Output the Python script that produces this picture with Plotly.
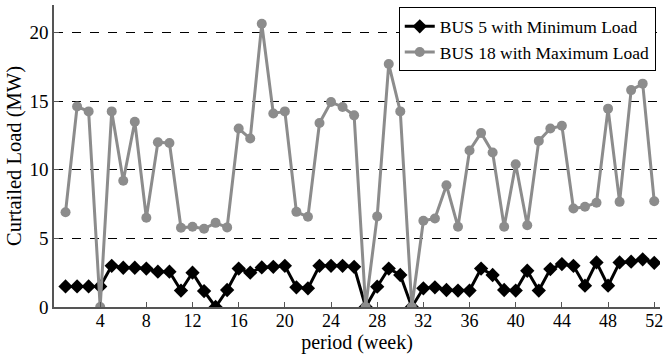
import plotly.graph_objects as go

weeks = list(range(1, 53))
bus5_min = [1.5, 1.5, 1.5, 1.5, 3.0, 2.86, 2.86, 2.8, 2.57, 2.57,
            1.2, 2.5, 1.16, 0.0, 1.24, 2.8, 2.5, 2.88, 2.93, 3.0,
            1.43, 1.36, 3.0, 3.0, 3.0, 2.93, 0.0, 1.48, 2.8, 2.33,
            0.0, 1.36, 1.43, 1.24, 1.2, 1.2, 2.8, 2.33, 1.24, 1.2,
            2.64, 1.2, 2.76, 3.13, 3.0, 1.55, 3.25, 1.55, 3.25, 3.3,
            3.47, 3.22]
bus18_max = [6.9, 14.6, 14.25, 0.0, 14.25, 9.2, 13.5, 6.5, 12.0, 11.95,
             5.77, 5.84, 5.7, 6.13, 5.8, 13.0, 12.27, 20.63, 14.1, 14.25,
             6.93, 6.57, 13.4, 14.93, 14.57, 13.96, 0.0, 6.6, 17.7, 14.25,
             0.0, 6.28, 6.45, 8.87, 5.84, 11.4, 12.68, 11.25, 5.84, 10.4,
             5.96, 12.1, 13.0, 13.2, 7.18, 7.3, 7.6, 14.45, 7.66, 15.8,
             16.27, 7.7]
xticks = list(range(4, 53, 4))
yticks = [0, 5, 10, 15, 20]

font = "Liberation Serif"

fig = go.Figure()
fig.add_trace(go.Scatter(
    x=weeks, y=bus5_min, mode="lines+markers", name="BUS 5 with Minimum Load",
    line=dict(color="black", width=3),
    marker=dict(symbol="diamond", size=11, color="black"),
))
fig.add_trace(go.Scatter(
    x=weeks, y=bus18_max, mode="lines+markers", name="BUS 18 with Maximum Load",
    line=dict(color="#8c8c8c", width=3),
    marker=dict(symbol="circle", size=10, color="#8c8c8c"),
))

fig.update_layout(
    width=665, height=354,
    margin=dict(l=54, r=2, t=5, b=47),
    paper_bgcolor="white", plot_bgcolor="white",
    font=dict(family=font, size=19, color="black"),
    legend=dict(
        x=0.993, y=0.992, xanchor="right", yanchor="top",
        bordercolor="black", borderwidth=1, bgcolor="white",
        font=dict(family=font, size=17.5, color="black"),
        tracegroupgap=0, itemwidth=30,
    ),
    showlegend=True,
)
fig.update_xaxes(
    range=[0, 52.5], tickvals=xticks, ticktext=[str(t) for t in xticks],
    ticks="inside", ticklen=5, tickcolor="#555555",
    showline=True, linecolor="#555555", linewidth=1.5,
    showgrid=False, zeroline=False, ticklabeloverflow="allow",
    ticklabelstandoff=-3,
    title=dict(text="period (week)", font=dict(family=font, size=20), standoff=4),
    tickfont=dict(family=font, size=18),
)
fig.update_yaxes(
    range=[0, 22], tickvals=yticks, ticktext=[str(t) for t in yticks],
    ticks="inside", ticklen=5, tickcolor="#555555",
    showline=True, linecolor="#555555", linewidth=1.5,
    showgrid=True, gridcolor="black", griddash="dash", gridwidth=1,
    zeroline=False,
    title=dict(text="Curtailed Load (MW)", font=dict(family=font, size=20.5), standoff=2),
    tickfont=dict(family=font, size=19),
)

fig.write_html(
    "out.html",
    config={"displayModeBar": False},
    post_script="document.body.style.margin='0';document.body.style.padding='0';",
)
